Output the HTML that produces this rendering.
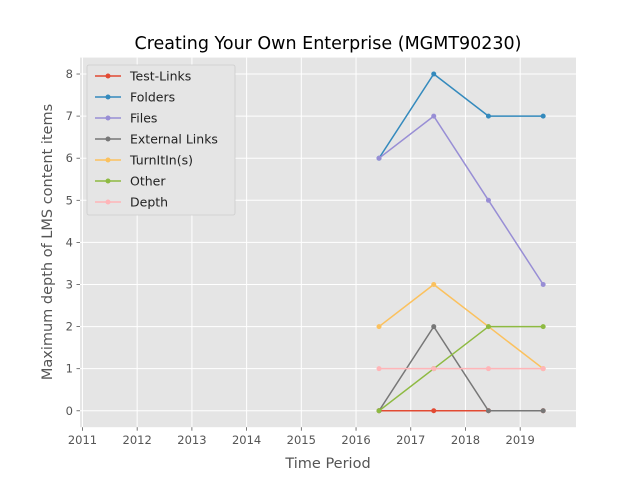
<!DOCTYPE html>
<html><head><meta charset="utf-8"><style>
body{margin:0;background:#fff;}
svg{display:block;font-family:"DejaVu Sans","Liberation Sans",sans-serif;}
</style></head><body>
<svg id="chart" width="640" height="480"></svg>
<script>
const years=[2016.42,2017.42,2018.42,2019.42];
const xTicks=[2011,2012,2013,2014,2015,2016,2017,2018,2019];
const yTicks=[0,1,2,3,4,5,6,7,8];
const seriesNames=["Test-Links","Folders","Files","External Links","TurnItIn(s)","Other","Depth"];
const testLinks=[0,0,0,0];
const folders=[6,8,7,7];
const files=[6,7,5,3];
const externalLinks=[0,2,0,0];
const turnItIn=[2,3,2,1];
const other=[0,1,2,2];
const depth=[1,1,1,1];
const seriesValues=[testLinks,folders,files,externalLinks,turnItIn,other,depth];
const colors=["#E24A33","#348ABD","#988ED5","#777777","#FBC15E","#8EBA42","#FFB5B8"];

const L=80,R=576,T=57.6,B=427.2;
const xMin=2010.955,xMax=2020.02,yMin=-0.39,yMax=8.39;
const sx=v=>L+(v-xMin)/(xMax-xMin)*(R-L);
const sy=v=>B-(v-yMin)/(yMax-yMin)*(B-T);
const svg=document.getElementById('chart');
const NS="http://www.w3.org/2000/svg";
function mk(tag,attrs,parent){const e=document.createElementNS(NS,tag);for(const k in attrs)e.setAttribute(k,attrs[k]);(parent||svg).appendChild(e);return e;}

let bg=mk('rect',{x:L,y:T,width:R-L,height:B-T,fill:'#E5E5E5'});



xTicks.forEach(t=>{
  const x=sx(t);
  let g=mk('line',{x1:x,x2:x,y1:T,y2:B,stroke:'#fff','stroke-width':1});
  
  
  mk('line',{x1:x,x2:x,y1:B,y2:B+3.5,stroke:'#555','stroke-width':0.8});
  let tx=mk('text',{x:x,y:B+17,'text-anchor':'middle','font-size':11.5,fill:'#555'});
  tx.textContent=t;
  
  
});
yTicks.forEach(t=>{
  const y=sy(t);
  let g=mk('line',{x1:L,x2:R,y1:y,y2:y,stroke:'#fff','stroke-width':1});
  
  
  mk('line',{x1:L-3.5,x2:L,y1:y,y2:y,stroke:'#555','stroke-width':0.8});
  let tx=mk('text',{x:L-7,y:y+4,'text-anchor':'end','font-size':11.5,fill:'#555'});
  tx.textContent=t;
  
  
});

seriesValues.forEach((vals,i)=>{
  const g=mk('g',{});
  
  
  const pts=vals.map((v,j)=>sx(years[j])+','+sy(v)).join(' ');
  mk('polyline',{points:pts,fill:'none',stroke:colors[i],'stroke-width':1.5},g);
  vals.forEach((v,j)=>{
    const c=mk('circle',{cx:sx(years[j]),cy:sy(v),r:2.5,fill:colors[i]},g);
    
    
  });
});

const lg=mk('g',{});


mk('rect',{x:87,y:65,width:148,height:150,fill:'#E5E5E5',stroke:'#ccc','stroke-width':0.8,rx:2},lg);
seriesNames.forEach((n,i)=>{
  const y=76+i*21;
  const e=mk('g',{},lg);
  
  
  mk('line',{x1:95,x2:121,y1:y,y2:y,stroke:colors[i],'stroke-width':1.5},e);
  mk('circle',{cx:108,cy:y,r:2.5,fill:colors[i]},e);
  const t=mk('text',{x:130,y:y+4.5,'font-size':12.5,fill:'#222'},e);
  t.textContent=n;
});

let title=mk('text',{x:328,y:49,'text-anchor':'middle','font-size':17.5,fill:'#000'});
title.textContent='Creating Your Own Enterprise (MGMT90230)';


let xl=mk('text',{x:328,y:468,'text-anchor':'middle','font-size':14.5,fill:'#555'});
xl.textContent='Time Period';


let yl=mk('text',{x:0,y:0,'text-anchor':'middle','font-size':14.5,fill:'#555',transform:'translate(52,242) rotate(-90)'});
yl.textContent='Maximum depth of LMS content items';


</script>
</body></html>
